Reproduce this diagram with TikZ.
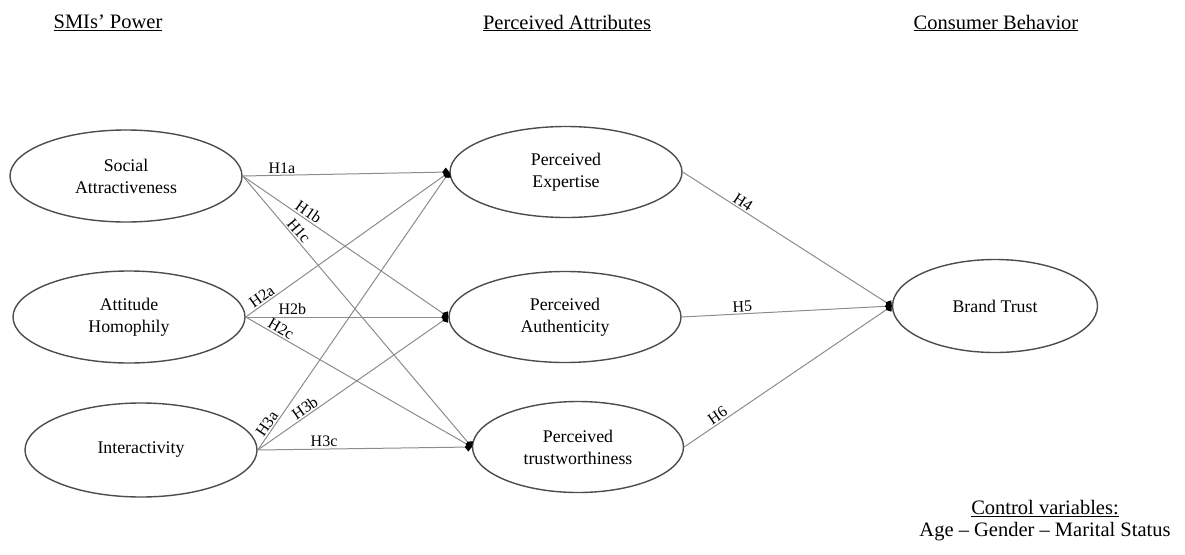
\documentclass[tikz,border=0pt]{standalone}
\usepackage{fontspec}
\setmainfont{Liberation Serif}
\usetikzlibrary{shapes.geometric,arrows.meta}
\tikzset{
  construct/.style={draw=black!70, line width=1.4pt, ellipse, minimum width=232pt, minimum height=92pt, inner sep=0pt, align=center, font=\fontsize{17.8}{22}\selectfont},
  path/.style={draw=black!45, line width=1pt, -{Diamond[length=7pt,width=9pt,black]}},
  hlab/.style={font=\fontsize{16}{18}\selectfont, inner sep=1.5pt},
  heading/.style={font=\fontsize{20.5}{24}\selectfont}
}
\begin{document}
\begin{tikzpicture}[x=1pt,y=-1pt]
\useasboundingbox (0,0) rectangle (1185,554);
% headings
\node[heading] (h1) at (108,23) {\underline{SMIs’ Power}};
\node[heading] (h2) at (567,23) {\underline{Perceived Attributes}};
\node[heading] (h3) at (996,23) {\underline{Consumer Behavior}};
% constructs
\node[construct] (sa) at (126,176) {Social\\Attractiveness};
\node[construct] (ah) at (129,317) {Attitude\\Homophily};
\node[construct, minimum height=94pt] (ia) at (141,450) {Interactivity};
\node[construct, minimum height=91pt] (pe) at (566,172) {Perceived\\Expertise};
\node[construct, minimum height=91pt] (pa) at (565,317) {Perceived\\Authenticity};
\node[construct, minimum width=211pt, minimum height=91pt] (pt) at (578,447) {Perceived\\trustworthiness};
\node[construct, minimum width=205pt, minimum height=93pt] (bt) at (995,306) {Brand Trust};
% paths
\draw[path] (sa.east) -- node[hlab, pos=0.19, above] {H1a} (pe.west);
\draw[path] (sa.east) -- node[hlab, pos=0.30, above, sloped] {H1b} (pa.west);
\draw[path] (sa.east) -- node[hlab, pos=0.22, above, sloped] {H1c} (pt.west);
\draw[path] (ah.east) -- node[hlab, pos=0.10, above, sloped] {H2a} (pe.west);
\draw[path] (ah.east) -- node[hlab, pos=0.23, above] {H2b} (pa.west);
\draw[path] (ah.east) -- node[hlab, pos=0.14, above, sloped] {H2c} (pt.west);
\draw[path] (ia.east) -- node[hlab, pos=0.08, above, sloped] {H3a} (pe.west);
\draw[path] (ia.east) -- node[hlab, pos=0.27, above, sloped] {H3b} (pa.west);
\draw[path] (ia.east) -- node[hlab, pos=0.31, above] {H3c} (pt.west);
\draw[path] (pe.east) -- node[hlab, pos=0.27, above, sloped] {H4} (bt.west);
\draw[path] (pa.east) -- node[hlab, pos=0.29, above, sloped] {H5} (bt.west);
\draw[path] (pt.east) -- node[hlab, pos=0.18, above, sloped] {H6} (bt.west);
% control variables
\node[align=center, font=\fontsize{20.5}{22}\selectfont] (cv) at (1045,521) {\underline{Control variables:}\\Age – Gender – Marital Status};
\end{tikzpicture}
\end{document}
